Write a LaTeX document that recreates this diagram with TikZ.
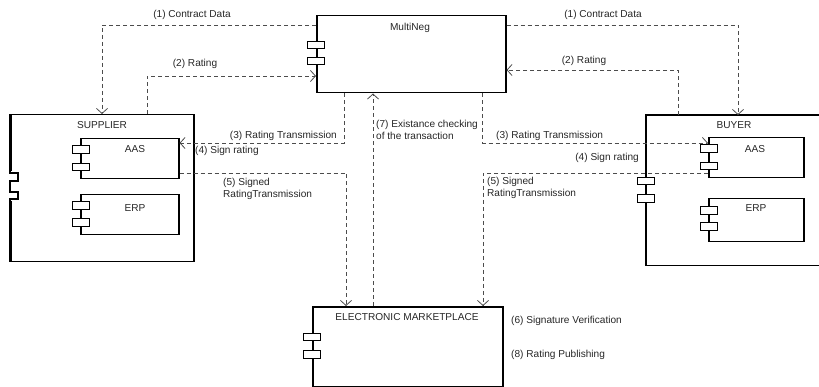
\documentclass[tikz,border=0pt]{standalone}
\usepackage{fontspec}
\setmainfont{Liberation Sans}
\usetikzlibrary{arrows.meta}
\begin{document}
\begin{tikzpicture}[x=1pt,y=-1pt,
  box/.style={draw=black, line width=1.5pt, fill=white, anchor=north west, inner sep=0pt},
  port/.style={draw=black, line width=1.1pt, fill=white, minimum width=17pt, minimum height=7.5pt, inner sep=0pt},
  flow/.style={draw=black!70, line width=0.8pt, dash pattern=on 4pt off 3pt},
  arr/.style={-{Straight Barb[length=5pt,width=11pt,line width=0.8pt]}},
  lbl/.style={font=\fontsize{10.1}{12}\selectfont, inner sep=0pt, text=black!85},
  ttl/.style={font=\fontsize{10.1}{12}\selectfont, inner sep=0pt, text=black!85},
]
\useasboundingbox (0,0) rectangle (819,387);

% boxes
\node[box, minimum width=189pt, minimum height=77pt] (multineg) at (316,15) {};
\node[box, minimum width=183pt, minimum height=147pt] (supplier) at (10,114) {};
\node[box, minimum width=98pt, minimum height=40pt] (saas) at (80,138) {};
\node[box, minimum width=98pt, minimum height=40pt] (serp) at (80,194) {};
\node[box, draw=none, minimum width=200pt, minimum height=149pt] (buyer) at (646,115) {};
\draw[line width=1.5pt] (buyer.north east) -- (buyer.north west) -- (buyer.south west) -- (buyer.south east);
\node[box, minimum width=95pt, minimum height=40pt] (baas) at (708,137) {};
\node[box, minimum width=95pt, minimum height=43pt] (berp) at (708,198) {};
\node[box, minimum width=190pt, minimum height=80pt] (market) at (312,306) {};

% titles
\node[ttl] (tmn) at (410,28) {MultiNeg};
\node[ttl] (tsup) at (102,125) {SUPPLIER};
\node[ttl] (tbuy) at (734,125) {BUYER};
\node[ttl] (tsaas) at (135,149) {AAS};
\node[ttl] (tserp) at (135,208) {ERP};
\node[ttl] (tbaas) at (755,149) {AAS};
\node[ttl] (tberp) at (756,208) {ERP};
\node[ttl] (tmk) at (407,317) {ELECTRONIC MARKETPLACE};

% bend coordinates
\coordinate (b1) at (102,25);
\coordinate (b2) at (147,76);
\coordinate (b3) at (738,25);
\coordinate (b4) at (678,70);
\coordinate (b5) at (344,143);
\coordinate (b6) at (346,173);
\coordinate (b7) at (373,200);
\coordinate (b8) at (482,143);
\coordinate (b9) at (483,173);

% connectors
\draw[flow,arr] (b1 -| multineg.west) -| (b1 |- supplier.north);
\draw[flow,arr] (b2 |- supplier.north) |- (b2 -| multineg.west);
\draw[flow,arr] (b3 -| multineg.east) -| (b3 |- buyer.north);
\draw[flow,arr] (b4 |- buyer.north) |- (b4 -| multineg.east);
\draw[flow,arr] (b5 |- multineg.south) |- (b5 -| saas.east);
\draw[flow,arr] (b6 -| saas.east) -| (b6 |- market.north);
\draw[flow,arr] (b7 |- market.north) -- (b7 |- multineg.south);
\draw[flow,arr] (b8 |- multineg.south) |- (b8 -| baas.west);
\draw[flow,arr] (b9 -| baas.west) -| (b9 |- market.north);

% ports
\node[port] (mp1) at (316,45) {};
\node[port] (mp2) at (316,61) {};
\node[port] (sap1) at (81,149.5) {};
\node[port] (sap2) at (81,167) {};
\node[port] (sep1) at (81,205.5) {};
\node[port] (sep2) at (81,222.5) {};
\node[port] (bap1) at (709,148.5) {};
\node[port] (bap2) at (709,166) {};
\node[port] (bep1) at (709,210.5) {};
\node[port] (bep2) at (709,226.5) {};
\node[port] (bp1) at (646,181) {};
\node[port] (bp2) at (646,198.5) {};
\node[port] (kp1) at (312,337) {};
\node[port] (kp2) at (312,354.5) {};
% supplier left-edge ports (cut)
\draw[fill=white, draw=none] (8,171) rectangle (12,201);
\draw[line width=1.1pt] (supplier.north west) -- (10,173) -- (18,173) -- (18,181) -- (10,181) -- (10,192) -- (18,192) -- (18,199) -- (10,199) -- (supplier.south west);

% labels
\node[lbl] (l1a) at (192,15) {(1) Contract Data};
\node[lbl] (l1b) at (603,15) {(1) Contract Data};
\node[lbl] (l2a) at (195,64) {(2) Rating};
\node[lbl] (l2b) at (584,61) {(2) Rating};
\node[lbl, anchor=east] (l3a) at (337,136) {(3) Rating Transmission};
\node[lbl, anchor=west] (l4a) at (195,151) {(4) Sign rating};
\node[lbl, anchor=north west, align=left] (l5a) at (223,178) {(5) Signed\\RatingTransmission};
\node[lbl, anchor=north west, align=left] (l7) at (376,120) {(7) Existance checking\\of the transaction};
\node[lbl, anchor=west] (l3b) at (496,136) {(3) Rating Transmission};
\node[lbl, anchor=east] (l4b) at (639,158) {(4) Sign rating};
\node[lbl, anchor=north west, align=left] (l5b) at (487,177) {(5) Signed\\RatingTransmission};
\node[lbl, anchor=west] (l6) at (511,321) {(6) Signature Verification};
\node[lbl, anchor=west] (l8) at (511,355) {(8) Rating Publishing};
\end{tikzpicture}
\end{document}
